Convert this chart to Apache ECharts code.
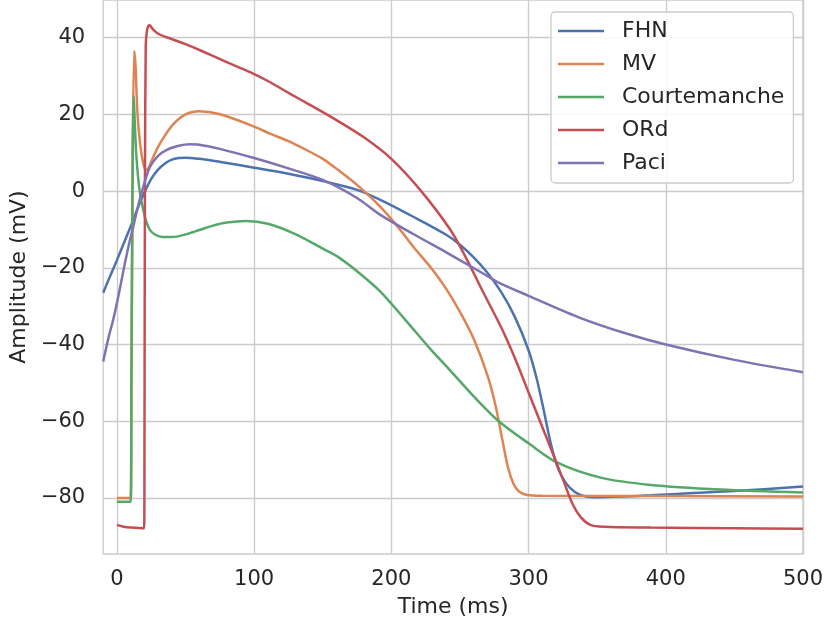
<!DOCTYPE html>
<html>
<head>
<meta charset="utf-8">
<script src="https://cdn.jsdelivr.net/npm/echarts@6/dist/echarts.min.js"></script>
<style>
html,body{margin:0;padding:0;background:#fff;}
#chart{width:826px;height:628px;}
</style>
</head>
<body>
<div id="chart"></div>
<script>
// ---- data (time in ms, amplitude in mV) ----
var seriesNames = ['FHN', 'MV', 'Courtemanche', 'ORd', 'Paci'];

var fhnT = [-10, -5, 0, 5, 10, 15, 20, 25, 30, 35, 40, 45, 50, 60, 70, 80, 100, 125, 150, 175, 192, 216, 240, 250, 260, 270, 280, 290, 300, 306, 311, 316, 321, 327, 334, 342, 350, 370, 389, 420, 450, 500];
var fhnV = [-26.5, -22.2, -18, -13.6, -9.2, -4.6, -0.4, 3.2, 5.6, 7.2, 8.2, 8.6, 8.7, 8.4, 7.9, 7.3, 6.1, 4.5, 2.6, 0.3, -2.3, -6.7, -11.4, -14, -17.3, -21.3, -26.3, -32.8, -41.5, -49, -57, -65.5, -71.8, -76, -78.5, -79.6, -79.8, -79.6, -79.3, -78.7, -78.2, -77];

var mvT = [0, 10, 10.5, 11.5, 12.6, 13.5, 15, 17, 19, 21, 23, 26, 30, 35, 40, 45, 50, 55, 60, 70, 80, 100, 112, 125, 137, 150, 162, 175, 192, 204, 216, 230, 240, 250, 260, 270, 276, 281, 285, 289, 293, 299, 310, 400, 500];
var mvV = [-80, -80, -60, 10, 36.5, 33, 20, 12, 7.5, 5.5, 6, 8.5, 11.5, 14.5, 17, 18.8, 20, 20.6, 20.8, 20.4, 19.5, 16.8, 14.9, 13, 10.9, 8.4, 5.3, 1.6, -4.1, -9, -14.5, -20.5, -25.5, -31.5, -38.5, -48, -56, -65, -72, -76.3, -78.3, -79.2, -79.4, -79.5, -79.6];

var courT = [0, 10, 10.5, 11.5, 12.2, 13, 14, 15.6, 17, 19.2, 21, 24, 28, 33, 40, 50, 60.6, 70, 80, 94, 110, 130, 150, 160, 175, 192, 210, 228.5, 243, 260, 278.3, 301, 321, 352.6, 389, 440, 500];
var courV = [-81, -81, -50, 10, 24.7, 18, 10, 2.9, -1, -4.9, -7.5, -10.1, -11.4, -12, -12, -11.3, -10.1, -9, -8.2, -7.8, -8.5, -11.2, -15, -16.9, -20.9, -26.2, -33.5, -41.2, -46.8, -53.5, -60, -66, -70.8, -74.7, -76.6, -77.8, -78.6];

var ordT = [0, 5, 10, 19.8, 20.1, 20.4, 21, 22, 23.5, 24.5, 26, 30, 40, 50, 60.6, 80, 97, 112, 126, 140, 160, 180, 200, 221, 243, 255, 265, 280, 290, 300, 310, 320, 326, 332, 338, 345, 355, 389, 450, 500];
var ordV = [-87, -87.5, -87.7, -87.9, -60, 0, 38, 42, 43.2, 43, 42.3, 41, 39.6, 38.3, 36.7, 33.6, 31, 28.3, 25.4, 22.6, 18.5, 14, 8.4, 0.3, -10.1, -17.8, -25, -35.5, -43.5, -52.5, -61.5, -70.5, -76, -81.5, -85, -87, -87.5, -87.7, -87.9, -88];

var paciT = [-10, -6, -2.7, 1, 5.8, 9, 11.9, 15, 19.2, 24, 30, 36, 45, 53, 60, 75, 100, 125, 150, 175, 192, 216, 240.6, 265, 279, 300, 338, 370, 400, 450, 500];
var paciV = [-44.4, -38, -33.5, -27.5, -18.8, -13.5, -9.3, -4.5, 1.1, 6.3, 9.2, 10.7, 11.8, 12.2, 12.1, 11, 8.6, 5.9, 2.9, -1.8, -6.2, -11.2, -16.1, -21.1, -24, -27.3, -33.1, -37, -40, -44, -47.2];

var xTicks = [0, 100, 200, 300, 400, 500];
var yTicks = [-80, -60, -40, -20, 0, 20, 40];

var colors = ['#4c72b0', '#dd8452', '#55a868', '#c44e52', '#8172b3'];

function pairs(t, v) {
  var out = [];
  for (var i = 0; i < t.length; i++) out.push([t[i], v[i]]);
  return out;
}
var allT = [fhnT, mvT, courT, ordT, paciT];
var allV = [fhnV, mvV, courV, ordV, paciV];

var FONT = 'DejaVu Sans';
var TXT = '#262626';
function fmt(v) { return v < 0 ? '\u2212' + Math.abs(v) : String(v); }

var chart = echarts.init(document.getElementById('chart'), null, {renderer: 'canvas'});
var option = {
  animation: false,
  backgroundColor: '#ffffff',
  color: colors,
  textStyle: {fontFamily: FONT, color: TXT},
  grid: {
    left: 103, right: 23, top: 0, bottom: 74,
    show: true, borderColor: '#cccccc', borderWidth: 1.3, backgroundColor: '#ffffff'
  },
  legend: {
    orient: 'vertical',
    left: 551, top: 12,
    padding: [8, 9, 9, 7],
    itemGap: 11,
    itemWidth: 46, itemHeight: 2.6,
    icon: 'rect',
    backgroundColor: 'rgba(255,255,255,0.85)',
    borderColor: '#cccccc', borderWidth: 1.3, borderRadius: 4,
    textStyle: {fontFamily: FONT, fontSize: 22, color: TXT, padding: [0, 0, 0, 13], lineHeight: 22},
    data: seriesNames
  },
  xAxis: {
    type: 'value', min: -10, max: 500,
    name: 'Time (ms)', nameLocation: 'middle', nameGap: 42,
    nameTextStyle: {fontFamily: FONT, fontSize: 22, color: TXT},
    axisLine: {show: false},
    axisTick: {show: false, customValues: xTicks},
    axisLabel: {customValues: xTicks, fontFamily: FONT, fontSize: 21, color: TXT, margin: 15, formatter: fmt},
    splitLine: {show: true, lineStyle: {color: '#cccccc', width: 1.4}}
  },
  yAxis: {
    type: 'value', min: -94.6, max: 49.8,
    name: 'Amplitude (mV)', nameLocation: 'middle', nameGap: 58,
    nameTextStyle: {fontFamily: FONT, fontSize: 22, color: TXT},
    axisLine: {show: false},
    axisTick: {show: false, customValues: yTicks},
    axisLabel: {customValues: yTicks, fontFamily: FONT, fontSize: 21, color: TXT, margin: 18, formatter: fmt},
    splitLine: {show: true, lineStyle: {color: '#cccccc', width: 1.4}}
  },
  series: seriesNames.map(function (n, i) {
    return {
      name: n, type: 'line',
      data: pairs(allT[i], allV[i]),
      showSymbol: false, symbol: 'none',
      smooth: 0.3,
      lineStyle: {width: 2.5, color: colors[i]},
      itemStyle: {color: colors[i]}
    };
  })
};
chart.setOption(option);
</script>
</body>
</html>
